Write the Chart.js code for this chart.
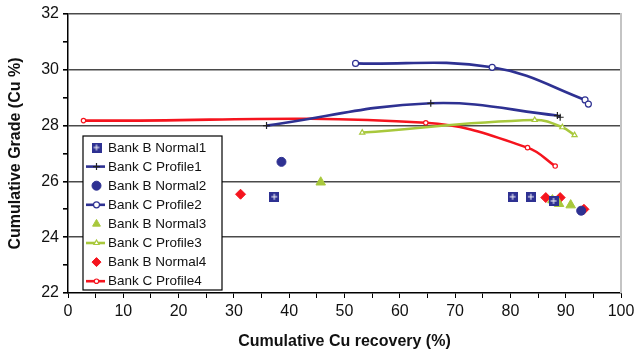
<!DOCTYPE html>
<html>
<head>
<meta charset="utf-8">
<script src="https://cdn.jsdelivr.net/npm/chart.js@4"></script>
<style>
  html, body { margin: 0; padding: 0; background: #fff; }
  #wrap { width: 640px; height: 355px; position: relative; }
</style>
</head>
<body>
<div id="wrap"><canvas id="grade-chart"></canvas></div>
<script>
// Cumulative recovery (x, %) vs cumulative grade (y, Cu %)
const labels = [
    'Bank B Normal1', 'Bank C Profile1',
    'Bank B Normal2', 'Bank C Profile2',
    'Bank B Normal3', 'Bank C Profile3',
    'Bank B Normal4', 'Bank C Profile4'
];

const normal1X = [37.3, 80.4, 83.7, 87.8];
const normal1Y = [25.45, 25.45, 25.45, 25.3];
const profile1X = [35.9, 65.6, 88.5, 89.0];
const profile1Y = [28.0, 28.8, 28.36, 28.3];

const normal2X = [38.6, 92.8];
const normal2Y = [26.7, 24.95];
const profile2X = [52.0, 76.7, 93.5, 94.1];
const profile2Y = [30.23, 30.09, 28.92, 28.77];

const normal3X = [45.7, 87.6, 88.8, 90.9];
const normal3Y = [25.97, 25.33, 25.2, 25.15];
const profile3X = [53.2, 84.4, 89.4, 91.6];
const profile3Y = [27.75, 28.2, 27.94, 27.66];

const normal4X = [31.2, 86.4, 89.0, 93.3];
const normal4Y = [25.54, 25.42, 25.42, 25.0];
const profile4X = [2.8, 64.7, 83.1, 88.1];
const profile4Y = [28.18, 28.1, 27.21, 26.55];

const xTicks = [0, 10, 20, 30, 40, 50, 60, 70, 80, 90, 100];
const yTicks = [22, 24, 26, 28, 30, 32];

const NAVY = '#2E3192';
const GREEN = '#A8C83C';
const RED = '#F5141E';

const toPoints = (xs, ys) => xs.map((x, i) => ({ x: x, y: ys[i] }));

// navy square with a white cross for the first normal series
const squareCross = (() => {
    const c = document.createElement('canvas');
    c.width = 10; c.height = 10;
    const g = c.getContext('2d');
    g.fillStyle = NAVY;
    g.fillRect(0, 0, 10, 10);
    g.fillStyle = '#fff';
    g.fillRect(4.5, 2, 1, 6);
    g.fillRect(2, 4.5, 6, 1);
    return c;
})();

const normalSet = (label, xs, ys, style, color, radius) => ({
    label: label,
    data: toPoints(xs, ys),
    showLine: false,
    pointStyle: style,
    pointRadius: radius,
    pointBackgroundColor: color,
    pointBorderColor: color,
    pointBorderWidth: 1,
});

const profileSet = (label, xs, ys, color, style, markerFill, markerBorder, radius) => ({
    label: label,
    data: toPoints(xs, ys),
    showLine: true,
    tension: 0.4,
    borderColor: color,
    borderWidth: 2.6,
    pointStyle: style,
    pointRadius: radius,
    pointBackgroundColor: markerFill,
    pointBorderColor: markerBorder,
    pointBorderWidth: 1.2,
});

const datasets = [
    normalSet(labels[0], normal1X, normal1Y, squareCross, NAVY, 5),
    profileSet(labels[1], profile1X, profile1Y, NAVY, 'cross', '#222', '#222', 3.5),
    normalSet(labels[2], normal2X, normal2Y, 'circle', NAVY, 4.5),
    profileSet(labels[3], profile2X, profile2Y, NAVY, 'circle', '#fff', NAVY, 3),
    normalSet(labels[4], normal3X, normal3Y, 'triangle', GREEN, 5.5),
    profileSet(labels[5], profile3X, profile3Y, GREEN, 'triangle', '#fff', GREEN, 3),
    normalSet(labels[6], normal4X, normal4Y, 'rectRot', RED, 5),
    profileSet(labels[7], profile4X, profile4Y, RED, 'circle', '#fff', RED, 2.2),
];

// legend box inside the plot plus the light frame on the right
const boxLegend = {
    id: 'boxLegend',
    afterDraw(chart) {
        const ctx = chart.ctx;
        const area = chart.chartArea;
        ctx.save();
        ctx.strokeStyle = '#c4c4c4';
        ctx.lineWidth = 2;
        ctx.beginPath();
        ctx.moveTo(area.right, area.top - 1);
        ctx.lineTo(area.right, area.bottom);
        ctx.stroke();

        const left = 83, top = 136, w = 139, h = 154;
        ctx.fillStyle = '#fff';
        ctx.fillRect(left, top, w, h);
        ctx.strokeStyle = '#000';
        ctx.lineWidth = 1.2;
        ctx.strokeRect(left, top, w, h);

        ctx.font = '13.5px "Liberation Sans", Arial, sans-serif';
        ctx.textBaseline = 'middle';
        chart.data.datasets.forEach((ds, i) => {
            const y = 147.5 + i * 19.1;
            const cx = 96.5;
            if (ds.showLine) {
                ctx.strokeStyle = ds.borderColor;
                ctx.lineWidth = 2.6;
                ctx.beginPath();
                ctx.moveTo(86, y);
                ctx.lineTo(105, y);
                ctx.stroke();
            }
            const opts = {
                pointStyle: ds.pointStyle,
                radius: Math.min(ds.pointRadius, 4.5),
                rotation: 0,
                borderWidth: ds.pointBorderWidth,
            };
            ctx.fillStyle = ds.pointBackgroundColor;
            ctx.strokeStyle = ds.pointBorderColor;
            ctx.lineWidth = ds.pointBorderWidth;
            Chart.helpers.drawPoint(ctx, opts, cx, y);
            ctx.fillStyle = '#111';
            ctx.fillText(ds.label, 108, y + 0.5);
        });
        ctx.restore();
    }
};

new Chart(document.getElementById('grade-chart'), {
    type: 'scatter',
    data: { datasets: datasets },
    plugins: [boxLegend],
    options: {
        responsive: true,
        maintainAspectRatio: false,
        animation: false,
        layout: { padding: { top: 14, right: 19, bottom: 0, left: 0 } },
        plugins: {
            legend: { display: false },
            tooltip: { enabled: false },
        },
        scales: {
            x: {
                type: 'linear',
                min: 0,
                max: 100,
                afterFit: (scale) => { scale.height = 62; },
                afterBuildTicks: (scale) => {
                    const t = [];
                    for (let v = 0; v <= 100; v += 5) t.push({ value: v });
                    scale.ticks = t;
                },
                border: { color: '#000', width: 1.5 },
                grid: {
                    drawOnChartArea: false,
                    tickLength: 5,
                    tickColor: '#000',
                },
                ticks: {
                    color: '#111',
                    padding: 4,
                    font: { family: '"Liberation Sans", Arial, sans-serif', size: 16 },
                    callback: (v) => xTicks.includes(v) ? String(v) : '',
                    maxRotation: 0,
                    autoSkip: false,
                },
                title: {
                    display: true,
                    text: 'Cumulative Cu recovery (%)',
                    color: '#111',
                    font: { family: '"Liberation Sans", Arial, sans-serif', size: 16, weight: 'bold' },
                    padding: { top: 0, bottom: 4 },
                },
            },
            y: {
                type: 'linear',
                min: 22,
                max: 32,
                afterFit: (scale) => { scale.width = 68; },
                afterBuildTicks: (scale) => {
                    const t = [];
                    for (let v = 22; v <= 32; v += 1) t.push({ value: v });
                    scale.ticks = t;
                },
                border: { color: '#000', width: 1.5 },
                grid: {
                    color: (ctx) => (yTicks.includes(ctx.tick.value) && ctx.tick.value !== 22) ? '#4a4a4a' : 'transparent',
                    lineWidth: 1.6,
                    tickColor: '#000',
                    tickLength: 5,
                },
                ticks: {
                    color: '#111',
                    padding: 4,
                    font: { family: '"Liberation Sans", Arial, sans-serif', size: 16 },
                    callback: (v) => yTicks.includes(v) ? String(v) : '',
                    autoSkip: false,
                },
                title: {
                    display: true,
                    text: 'Cumulative Grade (Cu %)',
                    color: '#111',
                    font: { family: '"Liberation Sans", Arial, sans-serif', size: 16, weight: 'bold' },
                    padding: { top: 6, bottom: 0 },
                },
            },
        },
    },
});
</script>
</body>
</html>
